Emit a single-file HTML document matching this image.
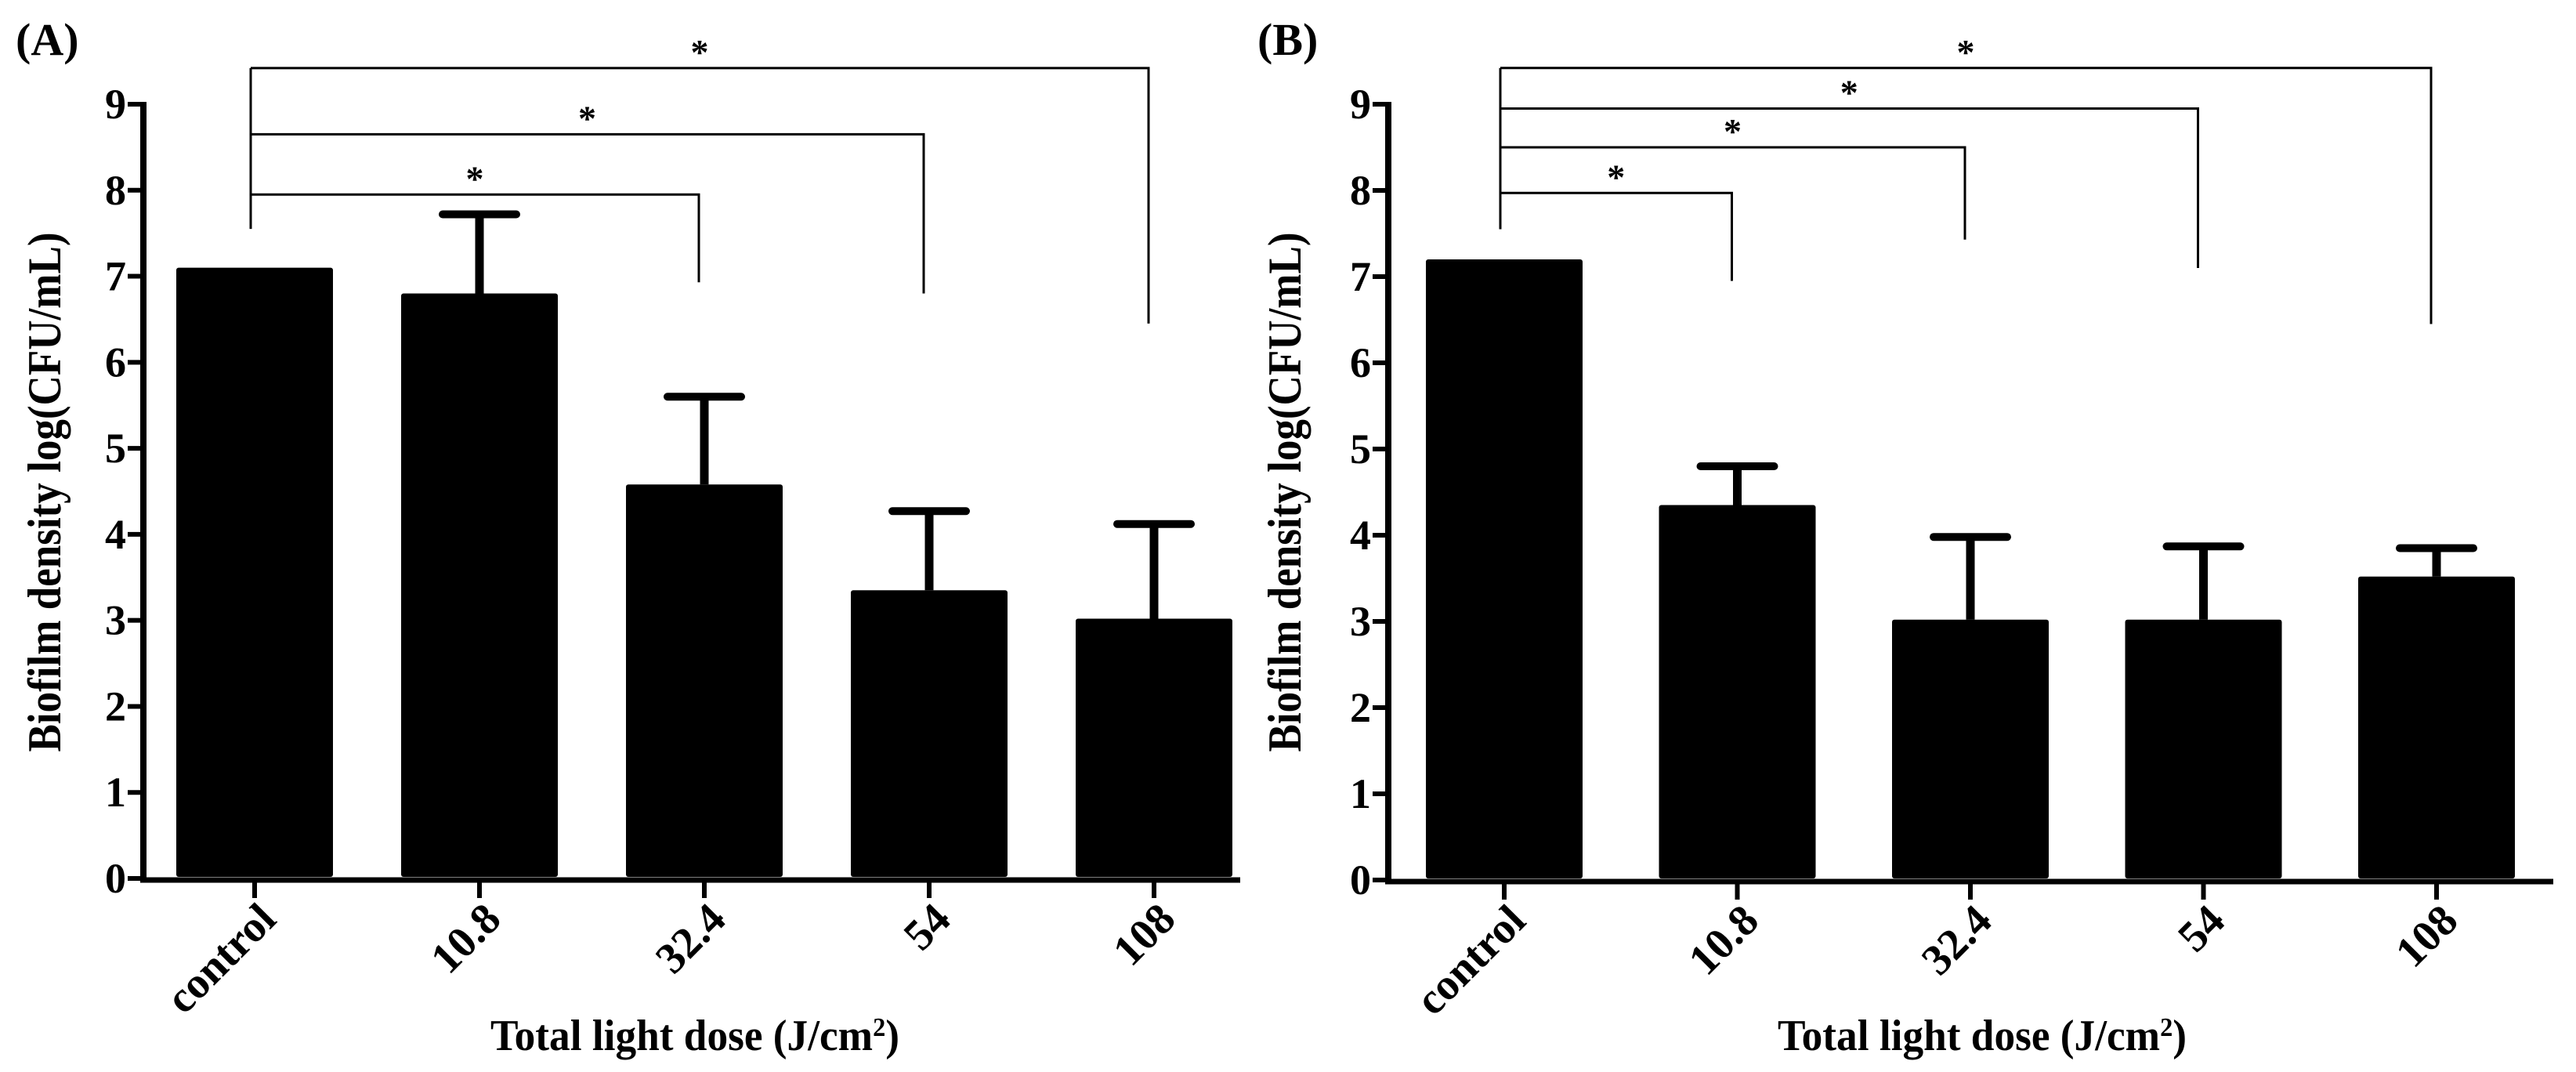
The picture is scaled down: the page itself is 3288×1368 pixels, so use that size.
<!DOCTYPE html>
<html><head><meta charset="utf-8"><style>
html,body{margin:0;padding:0;background:#fff;}
svg{display:block;}
text{font-family:"Liberation Serif",serif;font-weight:bold;fill:#000;}
</style></head><body>
<svg id="fig" width="3288" height="1368" viewBox="0 0 3288 1368" xmlns="http://www.w3.org/2000/svg"></svg>
<script>
const categories = ["control","10.8","32.4","54","108"];
const valuesA = [7.1, 6.8, 4.58, 3.35, 3.02];
const errTopA = [7.1, 7.72, 5.6, 4.27, 4.12];
const valuesB = [7.2, 4.35, 3.02, 3.02, 3.52];
const errTopB = [7.2, 4.8, 3.98, 3.87, 3.85];
const yTicks = [0,1,2,3,4,5,6,7,8,9];
// brackets: target index, bar level, drop level
const bracketsA = [{to:2, level:7.95, drop:6.93},{to:3, level:8.65, drop:6.8},{to:4, level:9.42, drop:6.45}];
const bracketsB = [{to:1, level:7.97, drop:6.95},{to:2, level:8.5, drop:7.43},{to:3, level:8.95, drop:7.1},{to:4, level:9.42, drop:6.45}];
const bracketBase = 7.55;

const NS = "http://www.w3.org/2000/svg";
const svg = document.getElementById("fig");
function el(tag, attrs, parent){
  const e = document.createElementNS(NS, tag);
  for (const k in attrs) e.setAttribute(k, attrs[k]);
  (parent||svg).appendChild(e);
  return e;
}

function panel(cfg){
  const g = el("g", {});
  
  
  const y = v => cfg.y0 - v * (cfg.y0 - cfg.y9) / 9;
  const x = i => cfg.x0 + i * cfg.step;

  // panel label
  const lab = el("text", {x: cfg.labelX, y: 70, "font-size": 58}, g);
  lab.textContent = cfg.label;
  
  

  // bars
  cfg.values.forEach((v, i) => {
    const r = el("rect", {x: x(i) - 100, y: y(v), width: 200, height: y(0) - y(v) - 2, rx: 3, fill: "#000"}, g);
    
    
    if (cfg.err[i] > cfg.values[i] + 0.01) {
      const s = el("line", {x1: x(i), x2: x(i), y1: y(v), y2: y(cfg.err[i]), stroke: "#000", "stroke-width": 11}, g);
      
      
      const c = el("line", {x1: x(i) - 47, x2: x(i) + 47, y1: y(cfg.err[i]), y2: y(cfg.err[i]), stroke: "#000", "stroke-width": 10, "stroke-linecap": "round"}, g);
      
      
    }
  });

  // axes
  const ya = el("line", {x1: cfg.ax, x2: cfg.ax, y1: y(9) - 3, y2: y(0) + 4, stroke: "#000", "stroke-width": 8}, g);
  
  
  const xa = el("line", {x1: cfg.ax - 4, x2: cfg.axEnd, y1: y(0) + 2, y2: y(0) + 2, stroke: "#000", "stroke-width": 7}, g);
  
  

  yTicks.forEach(t => {
    el("line", {x1: cfg.ax - 20, x2: cfg.ax, y1: y(t), y2: y(t), stroke: "#000", "stroke-width": 6}, g);
    const tl = el("text", {x: cfg.ax - 22, y: y(t) + 18, "font-size": 54, "text-anchor": "end"}, g);
    tl.textContent = t;
    
    
  });

  categories.forEach((c, i) => {
    el("line", {x1: x(i), x2: x(i), y1: y(0), y2: y(0) + 25, stroke: "#000", "stroke-width": 6}, g);
    const tl = el("text", {x: x(i) + 30, y: y(0) + 55, "font-size": 56, "text-anchor": "end", transform: `rotate(-45 ${x(i)+30} ${y(0)+55})`}, g);
    tl.textContent = c;
    
    
  });

  // axis titles
  const yt = el("text", {x: cfg.ytX, y: 628, "font-size": 60, "text-anchor": "middle", textLength: 663, lengthAdjust: "spacingAndGlyphs", transform: `rotate(-90 ${cfg.ytX} 628)`}, g);
  yt.textContent = "Biofilm density log(CFU/mL)";
  
  
  const xt = el("text", {x: cfg.xtX, y: 1340, "font-size": 56, "text-anchor": "middle", textLength: 522, lengthAdjust: "spacingAndGlyphs"}, g);
  xt.innerHTML = "Total light dose (J/cm<tspan baseline-shift=\"super\" font-size=\"34\">2</tspan>)";
  
  

  // significance brackets
  const lx = x(0) - 5;
  const topLevel = Math.max(...cfg.brackets.map(b => b.level));
  const lv = el("line", {x1: lx, x2: lx, y1: y(topLevel), y2: y(bracketBase), stroke: "#000", "stroke-width": 3}, g);
  
  
  cfg.brackets.forEach(b => {
    const rx = x(b.to) - 7;
    const p = el("polyline", {points: `${lx},${y(b.level)} ${rx},${y(b.level)} ${rx},${y(b.drop)}`, fill: "none", stroke: "#000", "stroke-width": 3}, g);
    
    
    const st = el("text", {x: (lx + rx) / 2, y: y(b.level) - 5, "font-size": 46, "text-anchor": "middle"}, g);
    st.textContent = "*";
    
    
  });
}

panel({name: "panel-a", label: "(A)", labelX: 20, values: valuesA, err: errTopA, brackets: bracketsA,
  x0: 325, step: 287, y0: 1121, y9: 133, ax: 183, axEnd: 1583, ytX: 77, xtX: 887});
panel({name: "panel-b", label: "(B)", labelX: 1605, values: valuesB, err: errTopB, brackets: bracketsB,
  x0: 1920, step: 297.5, y0: 1123, y9: 133, ax: 1772, axEnd: 3259, ytX: 1660, xtX: 2530});
</script>
</body></html>
